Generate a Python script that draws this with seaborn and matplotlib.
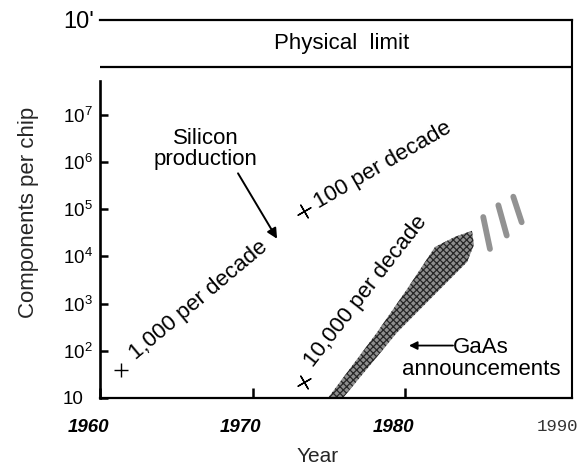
import numpy as np
import pandas as pd
import matplotlib
matplotlib.use("Agg")
import matplotlib.pyplot as plt
import matplotlib.transforms as mtransforms
from matplotlib.ticker import NullLocator
import seaborn as sns

# ---------------- data ----------------
year_ticks = [1960, 1970, 1980, 1990]
year_labels = ["1960", "1970", "1980", "1990"]
y_ticks = [1e1, 1e2, 1e3, 1e4, 1e5, 1e6, 1e7]
y_tick_labels = ["10", r"$10^{2}$", r"$10^{3}$", r"$10^{4}$", r"$10^{5}$", r"$10^{6}$", r"$10^{7}$"]
limit_low = 1e8
limit_high = 1e9
limit_high_label = "10'"

# silicon data points ("+") and their growth-rate labels
si_years = [1961.4, 1973.4, 1973.4]
si_components = [40, 9e4, 22]
si_labels = ["1,000 per decade", "100 per decade", "10,000 per decade"]

# GaAs announcement band: left/upper edge and right/lower edge (bottom to top)
gaas_left_years = [1974.95, 1978.16, 1980.13, 1981.97, 1983.28, 1984.39]
gaas_left_comp = [10, 243, 2010, 15800, 25800, 34600]
gaas_right_years = [1975.93, 1979.48, 1981.64, 1983.15, 1984.07, 1984.52]
gaas_right_comp = [10, 243, 1230, 3800, 7550, 17400]

# projected GaAs strokes (top and bottom of each stroke)
future_years_top = [1985.13, 1986.12, 1987.10]
future_comp_top = [67600, 120000, 182000]
future_years_bottom = [1985.57, 1986.67, 1987.65]
future_comp_bottom = [14300, 27500, 52500]

# ---------------- style ----------------
sns.set_theme(style="ticks")
plt.rcParams["font.family"] = ["Liberation Sans", "DejaVu Sans"]
plt.rcParams["mathtext.fontset"] = "custom"
plt.rcParams["mathtext.rm"] = "Liberation Sans"
plt.rcParams["mathtext.it"] = "Liberation Sans:italic"
plt.rcParams["mathtext.bf"] = "Liberation Sans:bold"
plt.rcParams["hatch.linewidth"] = 0.9
plt.rcParams["axes.edgecolor"] = "black"
plt.rcParams["text.color"] = "black"

fig = plt.figure(figsize=(5.8, 4.66), dpi=100)
ax = fig.add_axes([100 / 580, 68 / 466, 472 / 580, 378 / 466])
ax.set_yscale("log")
ax.set_xlim(1960, 1990.95)
ax.set_ylim(10, limit_high)

# GaAs band
band_x = gaas_left_years + gaas_right_years[::-1]
band_y = gaas_left_comp + gaas_right_comp[::-1]
ax.fill(band_x, band_y, facecolor="#8e8e8e", edgecolor="#262626",
        linewidth=0, hatch="xxxxx", zorder=2)

# projected strokes
strokes = pd.DataFrame({
    "year": [v for pair in zip(future_years_top, future_years_bottom) for v in pair],
    "comp": [v for pair in zip(future_comp_top, future_comp_bottom) for v in pair],
    "stroke": [i for i in range(len(future_years_top)) for _ in range(2)],
})
sns.lineplot(data=strokes, x="year", y="comp", units="stroke", estimator=None,
             color="#6e6e6e", lw=4.2, alpha=0.75, ax=ax, legend=False,
             solid_capstyle="round", zorder=2)

# silicon points
sns.scatterplot(x=si_years[:1], y=si_components[:1], marker="+", s=110,
                color="black", linewidth=1.0, ax=ax, zorder=3)
sns.scatterplot(x=si_years[1:], y=si_components[1:], marker=(4, 2, 30), s=110,
                color="black", linewidth=1.0, ax=ax, zorder=3)

# growth-rate labels
label_angles = [40, 30, 52]
label_offsets = [(10.5, 6.5), (10.5, 1.5), (6.0, 10.0)]
for x, y, lab, ang, off in zip(si_years, si_components, si_labels, label_angles, label_offsets):
    ax.annotate(lab, (x, y), xytext=off, textcoords="offset points",
                rotation=ang, rotation_mode="anchor", ha="left", va="baseline",
                fontsize=16)

# Silicon production annotation
ax.annotate("", xy=(1971.61, 10 ** 4.37), xytext=(1969.05, 10 ** 5.755),
            arrowprops=dict(arrowstyle="-|>", color="black", lw=1.4,
                            mutation_scale=15, shrinkA=0, shrinkB=0))
ax.text(1966.95, 10 ** 6.27, "Silicon\nproduction", ha="center", va="center",
        fontsize=16, linespacing=1.0)

# GaAs annotation
ax.annotate("", xy=(1980.26, 10 ** 2.11), xytext=(1983.15, 10 ** 2.11),
            arrowprops=dict(arrowstyle="-|>", color="black", lw=1.3,
                            mutation_scale=12, shrinkA=0, shrinkB=0))
ax.text(1984.98, 10 ** 1.96, "GaAs", ha="center", va="baseline", fontsize=16)
ax.text(1984.98, 10 ** 1.49, "announcements", ha="center", va="baseline", fontsize=16)

# physical limit band
ax.axhline(limit_low, color="black", lw=1.6)
ax.text(np.mean(ax.get_xlim()) + 0.4, np.sqrt(limit_low * limit_high), "Physical  limit",
        ha="center", va="center", fontsize=16)

# spines
ax.spines["left"].set_bounds(10, 10 ** 7.7)
ax.spines["left"].set_linewidth(1.9)
ax.spines["bottom"].set_linewidth(1.6)
ax.spines["right"].set_linewidth(1.5)
ax.spines["top"].set_linewidth(1.6)

# y ticks
ax.set_yticks(y_ticks + [limit_high], y_tick_labels + [limit_high_label])
ax.yaxis.set_minor_locator(NullLocator())
ax.tick_params(axis="y", direction="in", length=6, width=1.8, pad=26.8,
               labelsize=13.5, colors="black")
for lab in ax.get_yticklabels():
    lab.set_ha("left")
ax.get_yticklabels()[-1].set_fontsize(17)
ax.yaxis.get_major_ticks()[-1].tick1line.set_visible(False)

# x ticks
ax.set_xticks(year_ticks, year_labels)
ax.xaxis.set_minor_locator(NullLocator())
ax.tick_params(axis="x", direction="in", length=7, width=1.8, pad=15.0, colors="black")
shift = mtransforms.ScaledTranslation(-12 / 100, 0, fig.dpi_scale_trans)
xlabs = ax.get_xticklabels()
for lab in xlabs[:3]:
    lab.set_fontweight("bold")
    lab.set_fontstyle("italic")
    lab.set_fontsize(13.5)
    lab.set_transform(lab.get_transform() + shift)
xlabs[3].set_fontfamily("Liberation Mono")
xlabs[3].set_fontsize(12.5)
xlabs[3].set_color("#333333")
ax.xaxis.get_major_ticks()[-1].tick1line.set_visible(False)

ax.set_xlabel("Year", fontsize=15, va="center")
ax.xaxis.set_label_coords(0.462, -0.156)
ax.set_ylabel("Components per chip", fontsize=16, va="center")
ax.yaxis.set_label_coords(-0.1525, 0.492)

fig.savefig("out.png", dpi=100)
